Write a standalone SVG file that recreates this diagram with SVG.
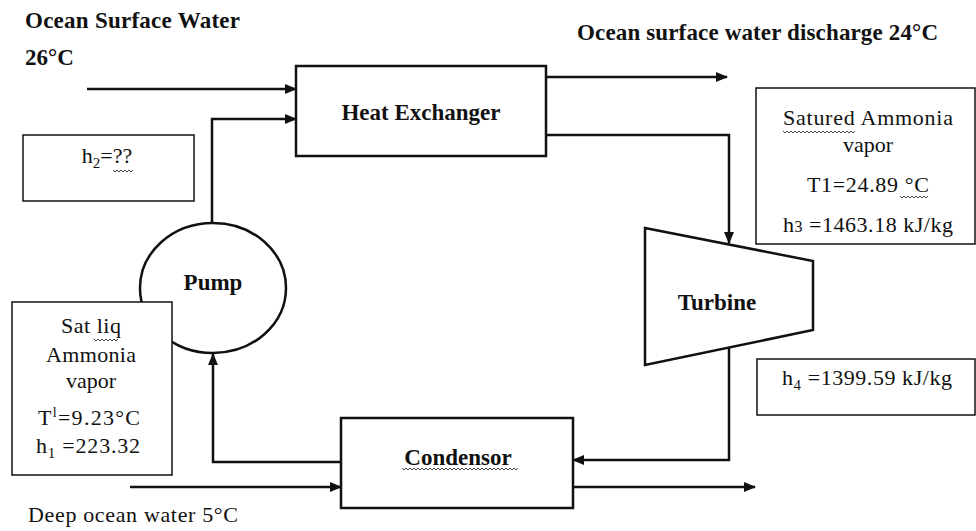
<svg xmlns="http://www.w3.org/2000/svg" width="976" height="531" viewBox="0 0 976 531">
<style>
.b{font-family:"Liberation Serif","Times New Roman",serif;font-weight:bold;font-size:23px;fill:#111}
.r{font-family:"Liberation Serif","Times New Roman",serif;font-size:22px;fill:#111}
.box{fill:#fff;stroke:#111;stroke-width:1.5}
.unit{fill:#fff;stroke:#111;stroke-width:2.5}
.con{fill:none;stroke:#111;stroke-width:2.5}
.sq{fill:none;stroke:#444;stroke-width:1}
.m{text-anchor:middle}
</style>
<defs>
<marker id="ah" markerUnits="userSpaceOnUse" markerWidth="12" markerHeight="10" refX="11" refY="5" orient="auto">
<path d="M0,0 L12,5 L0,10 z" fill="#111"/>
</marker>
</defs>
<rect width="976" height="531" fill="#fff"/>

<g id="labels">
<text class="b" x="25" y="28" textLength="215">Ocean Surface Water</text>
<text class="b" x="25" y="65">26°C</text>
<text class="b" x="577" y="40" textLength="361">Ocean surface water discharge 24°C</text>
<text class="r" x="28" y="522" textLength="210">Deep ocean water 5°C</text>
</g>

<g id="connectors">
<path class="con" d="M87,89 H296" marker-end="url(#ah)"/>
<path class="con" d="M212,224 V119 H296" marker-end="url(#ah)"/>
<path class="con" d="M546,77 H727" marker-end="url(#ah)"/>
<path class="con" d="M546,135 H729 V243" marker-end="url(#ah)"/>
<path class="con" d="M729,348 V460 H573" marker-end="url(#ah)"/>
<path class="con" d="M341,462 H213 V354" marker-end="url(#ah)"/>
<path class="con" d="M130,487 H341" marker-end="url(#ah)"/>
<path class="con" d="M573,487 H755" marker-end="url(#ah)"/>
</g>

<g id="heat-exchanger">
<rect class="unit" x="296" y="66" width="250" height="90"/>
<text class="b m" x="421" y="120">Heat Exchanger</text>
</g>

<g id="pump">
<ellipse class="unit" cx="213" cy="288" rx="73" ry="65"/>
<text class="b m" x="213" y="290">Pump</text>
</g>

<g id="turbine">
<polygon class="unit" points="645,228 813,261 813,330 645,365"/>
<text class="b m" x="717" y="310">Turbine</text>
</g>

<g id="condensor">
<rect class="unit" x="341" y="418" width="232" height="90"/>
<text class="b m" x="458" y="465">Condensor</text>
<path class="sq" d="M402,468 l2,2 l2,-2 l2,2 l2,-2 l2,2 l2,-2 l2,2 l2,-2 l2,2 l2,-2 l2,2 l2,-2 l2,2 l2,-2 l2,2 l2,-2 l2,2 l2,-2 l2,2 l2,-2 l2,2 l2,-2 l2,2 l2,-2 l2,2 l2,-2 l2,2 l2,-2 l2,2 l2,-2 l2,2 l2,-2 l2,2 l2,-2 l2,2 l2,-2 l2,2 l2,-2 l2,2 l2,-2 l2,2 l2,-2 l2,2 l2,-2 l2,2 l2,-2 l2,2 l2,-2 l2,2 l2,-2 l2,2 l2,-2 l2,2 l2,-2 l2,2 l2,-2 l2,2 l2,-2"/>
</g>

<g id="h2-box">
<rect class="box" x="23" y="135" width="171" height="66"/>
<text class="r m" x="107" y="163">h<tspan font-size="15" dy="5">2</tspan><tspan dy="-5">=??</tspan></text>
<path class="sq" d="M113,170 l2,2 l2,-2 l2,2 l2,-2 l2,2 l2,-2 l2,2 l2,-2 l2,2 l2,-2"/>
</g>

<g id="sat-liq-box">
<rect class="box" x="12" y="302" width="160" height="173"/>
<text class="r m" x="91" y="333" textLength="60">Sat liq</text>
<path class="sq" d="M94,339 l2,2 l2,-2 l2,2 l2,-2 l2,2 l2,-2 l2,2 l2,-2 l2,2 l2,-2 l2,2 l2,-2"/>
<text class="r m" x="91" y="362" textLength="90">Ammonia</text>
<text class="r m" x="91" y="388">vapor</text>
<text class="r m" x="89" y="425" textLength="102">T<tspan font-size="14" dy="-8">l</tspan><tspan dy="8">=9.23°C</tspan></text>
<text class="r m" x="88" y="453" textLength="104">h<tspan font-size="15" dy="5">1</tspan><tspan dy="-5"> =223.32</tspan></text>
</g>

<g id="vapor-box">
<rect class="box" x="756" y="88" width="219" height="156"/>
<text class="r m" x="868" y="125" textLength="170">Satured Ammonia</text>
<path class="sq" d="M783,131 l2,2 l2,-2 l2,2 l2,-2 l2,2 l2,-2 l2,2 l2,-2 l2,2 l2,-2 l2,2 l2,-2 l2,2 l2,-2 l2,2 l2,-2 l2,2 l2,-2 l2,2 l2,-2 l2,2 l2,-2 l2,2 l2,-2 l2,2 l2,-2 l2,2 l2,-2 l2,2 l2,-2 l2,2 l2,-2 l2,2 l2,-2 l2,2 l2,-2"/>
<text class="r m" x="868" y="152">vapor</text>
<text class="r m" x="868" y="192" textLength="122">T1=24.89 °C</text>
<path class="sq" d="M900,196 l2,2 l2,-2 l2,2 l2,-2 l2,2 l2,-2 l2,2 l2,-2 l2,2 l2,-2 l2,2 l2,-2 l2,2 l2,-2"/>
<text class="r m" x="868" y="232" textLength="170">h<tspan font-size="16">3</tspan> =1463.18 kJ/kg</text>
</g>

<g id="h4-box">
<rect class="box" x="757" y="359" width="218" height="56"/>
<text class="r" x="782" y="385" textLength="170">h<tspan font-size="15" dy="5">4</tspan><tspan dy="-5"> =1399.59 kJ/kg</tspan></text>
</g>
</svg>
